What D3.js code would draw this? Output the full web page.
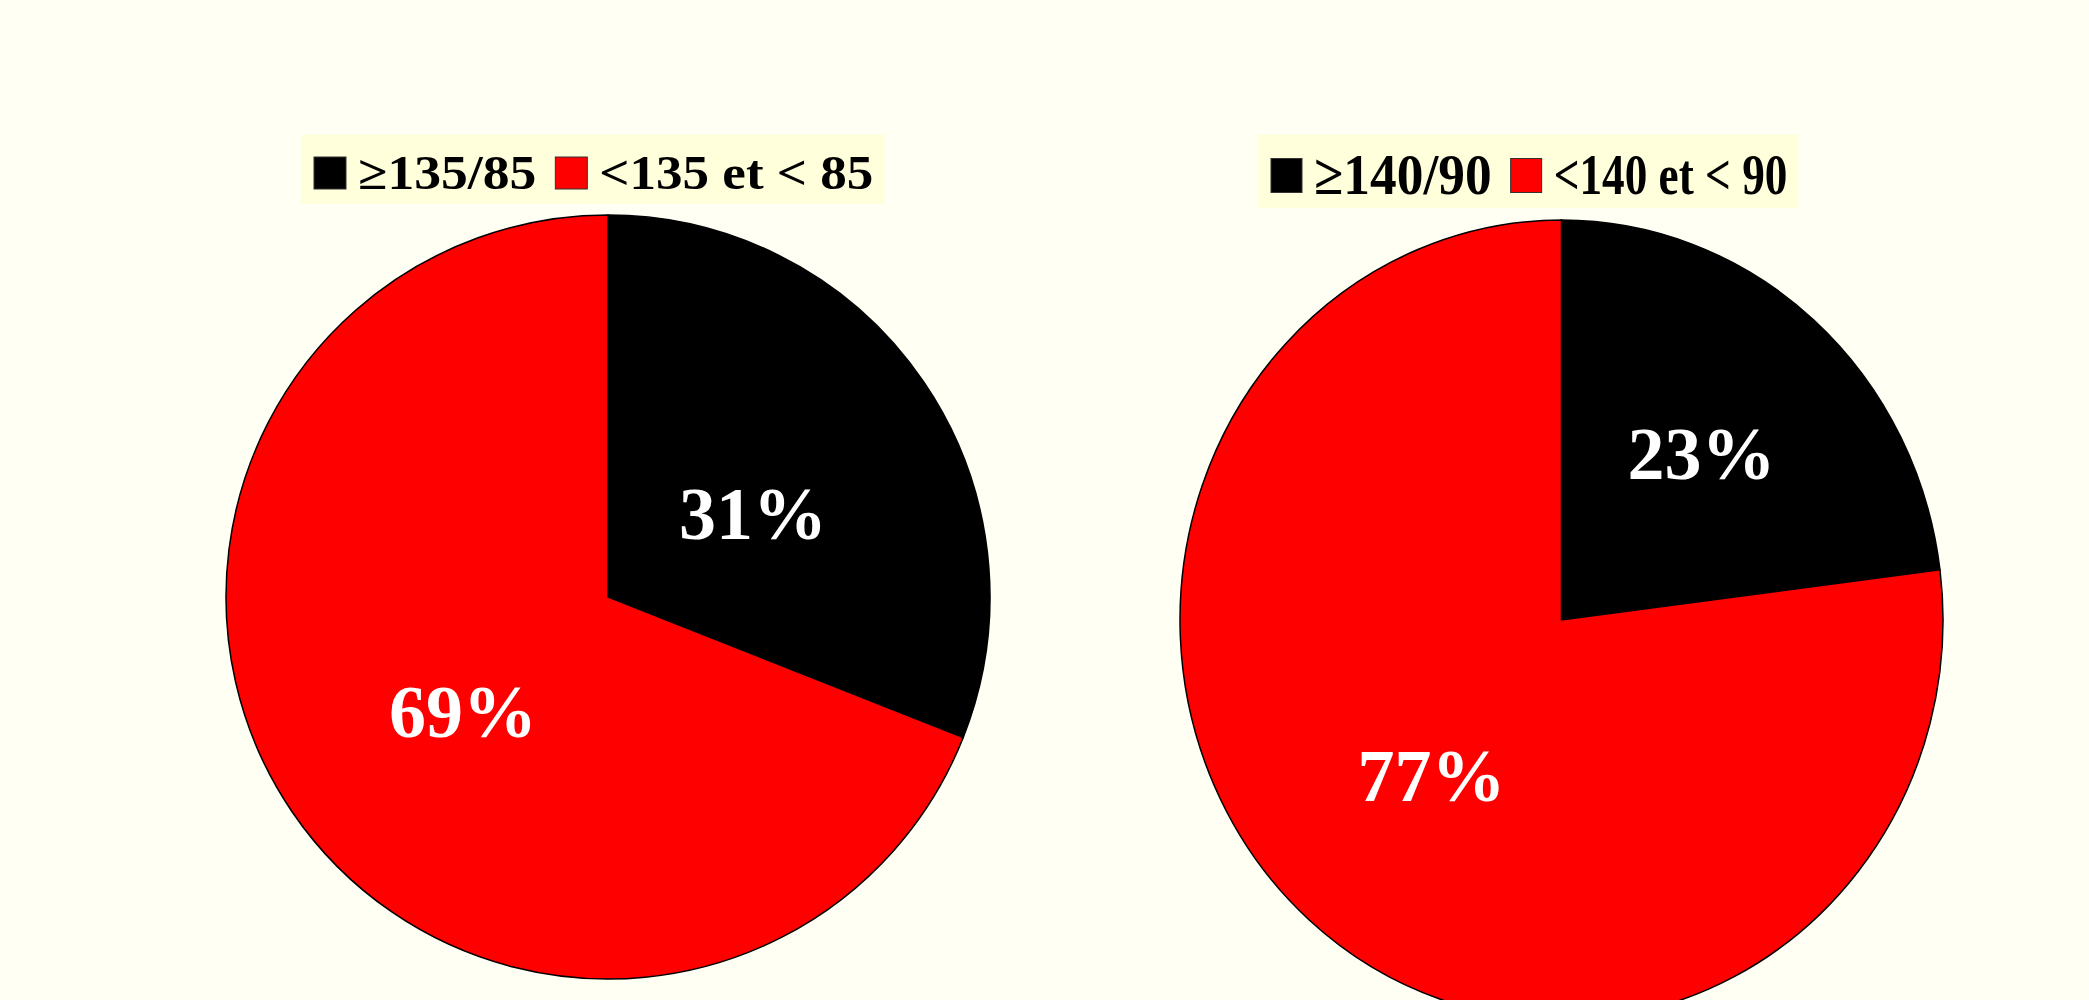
<!DOCTYPE html>
<html>
<head>
<meta charset="utf-8">
<script src="https://cdn.jsdelivr.net/npm/d3@7"></script>
<style>
  html, body { margin: 0; padding: 0; background: #fffff4; }
  svg { display: block; }
  text { font-family: "Liberation Serif", "Times New Roman", serif; font-weight: bold; }
</style>
</head>
<body>
<svg id="chart" width="2089" height="1000"></svg>
<script>
// data
const leftLabels = ['\u2265135/85', '<135 et < 85']
const leftValues = [31, 69]
const rightLabels = ['\u2265140/90', '<140 et < 90']
const rightValues = [23, 77]
const sliceColors = ['#000000', '#ff0000']

const width = 2089,
  height = 1000

const svg = d3.select('#chart')

svg.append('rect')
  .attr('width', width)
  .attr('height', height)
  .attr('fill', '#fffff4')

const color = d3.scaleOrdinal().domain([0, 1]).range(sliceColors)

const pies = [
  {
    labels: leftLabels, values: leftValues,
    cx: 608, cy: 597, r: 382, sy: 1,
    labelRatio: 0.459, labelDx: 0, labelDy: 16,
    legend: { x: 301, y: 134.5, h: 69.5, font: 48, sx: [1.117, 1.105], baseline: 189, sq: 32, sqH: 32, sqTop: 157 }
  },
  {
    labels: rightLabels, values: rightValues,
    cx: 1561.5, cy: 620, r: 381.5, sy: 400 / 381.5,
    labelRatio: 0.535, labelDx: 5, labelDy: -5,
    legend: { x: 1258, y: 134.5, h: 73.5, font: 57, sx: [0.937, 0.794], baseline: 194, sq: 31, sqH: 34, sqTop: 158.5 }
  }
]

const pie = d3.pie().sort(null).value(d => d)

pies.forEach(p => {
  const arcs = pie(p.values)
  const arc = d3.arc().innerRadius(0).outerRadius(p.r)
  const labelArc = d3.arc().innerRadius(p.r * p.labelRatio).outerRadius(p.r * p.labelRatio)

  const g = svg.append('g')
    .attr('transform', `translate(${p.cx},${p.cy}) scale(1,${p.sy})`)

  g.selectAll('path')
    .data(arcs)
    .enter().append('path')
    .attr('d', arc)
    .attr('fill', (d, i) => color(i))
    .attr('stroke', '#000')
    .attr('stroke-width', 1.5)
    .attr('vector-effect', 'non-scaling-stroke')

  svg.append('g')
    .selectAll('text')
    .data(arcs)
    .enter().append('text')
    .attr('transform', d => {
      const c = labelArc.centroid(d)
      return `translate(${p.cx + c[0] + p.labelDx},${p.cy + c[1] * p.sy + p.labelDy})`
    })
    .attr('text-anchor', 'middle')
    .attr('dominant-baseline', 'central')
    .attr('fill', '#fff')
    .attr('font-size', 74)
    .text(d => d.data + '%')

  // legend
  const L = p.legend
  const lg = svg.append('g')
  const box = lg.append('rect')
    .attr('x', L.x)
    .attr('y', L.y)
    .attr('height', L.h)
    .attr('fill', '#ffffdc')

  let x = L.x + 13
  p.labels.forEach((lab, i) => {
    lg.append('rect')
      .attr('x', x)
      .attr('y', L.sqTop)
      .attr('width', L.sq)
      .attr('height', L.sqH)
      .attr('fill', color(i))
      .attr('stroke', '#333')
      .attr('stroke-width', 1)
    x += L.sq + 12
    const t = lg.append('text')
      .attr('transform', `translate(${x},${L.baseline}) scale(${L.sx[i]},1)`)
      .attr('font-size', L.font)
      .attr('fill', '#000')
      .text(lab)
    const w = t.node().getComputedTextLength() * L.sx[i]
    x += w + 19
  })
  box.attr('width', x - 19 + 11 - L.x)
})
</script>
</body>
</html>
